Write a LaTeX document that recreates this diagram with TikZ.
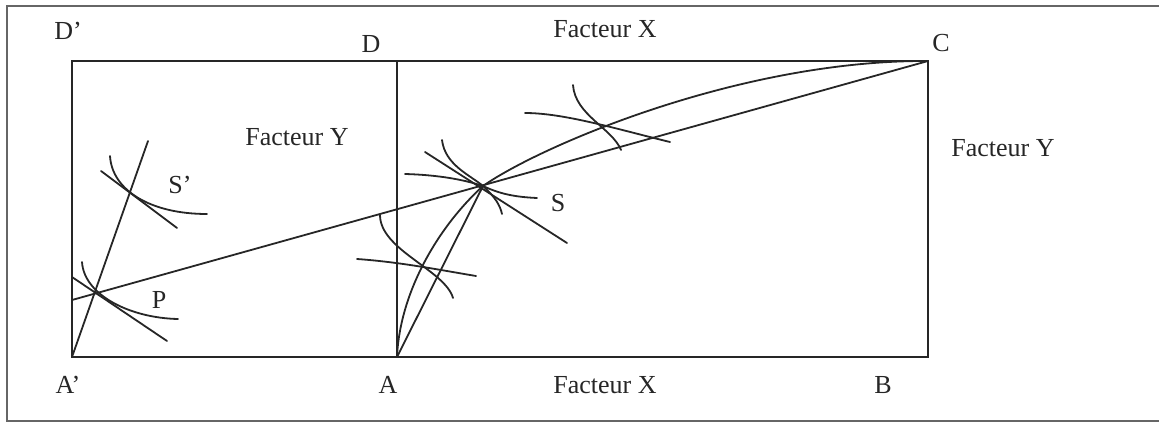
\documentclass[tikz,border=0pt]{standalone}
\usepackage{fontspec}
\setmainfont{Liberation Serif}
\begin{document}
\begin{tikzpicture}[x=0.5pt,y=-0.5pt,
  ln/.style={draw=black!85,line width=0.9pt,line cap=round},
  frame/.style={draw=black!60,line width=0.6pt},
  lbl/.style={anchor=base,inner sep=0pt,text=black!85,font=\fontsize{13}{15}\selectfont}]
\useasboundingbox (0,0) rectangle (1159,427);
% outer frame
\draw[frame] (1159,6) -- (7,6) -- (7,421) -- (1159,421);
% main points
\coordinate (Ap) at (72,357);
\coordinate (Dp) at (72,61);
\coordinate (D) at (397,61);
\coordinate (A) at (397,357);
\coordinate (B) at (928,357);
\coordinate (C) at (928,61);
\coordinate (E) at (72,300);
\coordinate (T) at (148,141);
\coordinate (S) at (483,186);
% rectangle and vertical
\draw[ln] (Ap) -- (B) -- (C) -- (Dp) -- cycle;
\draw[ln] (D) -- (A);
% diagonal
\draw[ln] (E) -- (C);
% line from A' through P and S'
\draw[ln] (Ap) -- (T);
% A to S straight, A-S-C curve
\draw[ln] (A) -- (S);
\draw[ln] (A) .. controls (400,290) and (440,225) .. (S)
  .. controls (540,146) and (740,60) .. (C);
% arcs near lower intersection
\draw[ln] (380,215) .. controls (380,250) and (445,270) .. (453,298);
\draw[ln] (357,259) .. controls (400,262) and (440,270) .. (476,276);
% arcs at S
\draw[ln] (442,140) .. controls (445,165) and (470,175) .. (S)
  .. controls (495,197) and (500,205) .. (502,214);
\draw[ln] (405,174) .. controls (440,175) and (465,180) .. (S)
  .. controls (500,194) and (515,197) .. (537,198);
\draw[ln] (425,152) -- (567,243);
% arcs near upper intersection
\draw[ln] (573,85) .. controls (575,115) and (612,128) .. (621,150);
\draw[ln] (525,113) .. controls (565,113) and (620,130) .. (670,142);
% arcs at S'
\draw[ln] (110,156) .. controls (112,190) and (150,214) .. (207,214);
\draw[ln] (101,171) -- (177,228);
% arcs at P
\draw[ln] (82,262) .. controls (84,295) and (130,318) .. (178,319);
\draw[ln] (72,277) -- (167,341);
% labels
\node[lbl] (lDp) at (68,40) {D’};
\node[lbl] (lD) at (371,53) {D};
\node[lbl] (lC) at (941,52) {C};
\node[lbl] (lAp) at (68,393) {A’};
\node[lbl] (lA) at (388,393) {A};
\node[lbl] (lB) at (883,393) {B};
\node[lbl] (fxt) at (605,38) {Facteur X};
\node[lbl] (fxb) at (605,393) {Facteur X};
\node[lbl] (fyl) at (297,146) {Facteur Y};
\node[lbl] (fyr) at (1003,157) {Facteur Y};
\node[lbl] (lSp) at (180,193) {S’};
\node[lbl] (lP) at (159,308) {P};
\node[lbl] (lS) at (558,212) {S};
\end{tikzpicture}
\end{document}
